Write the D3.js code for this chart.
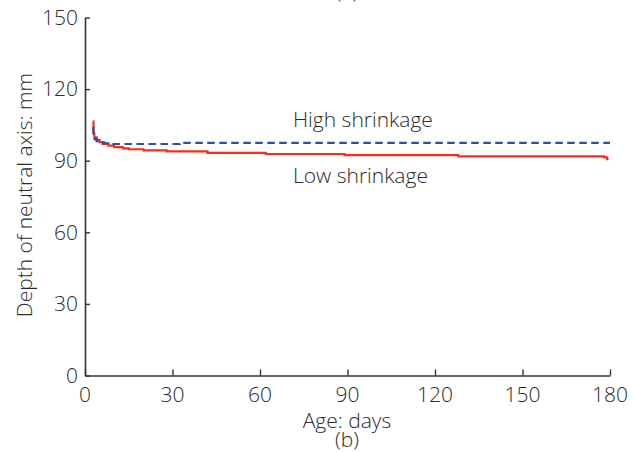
<!DOCTYPE html>
<html>
<head>
<meta charset="utf-8">
<script src="https://cdn.jsdelivr.net/npm/d3@7"></script>
<style>
  body { margin: 0; background: #fff; }
  svg { display: block; }
  text { font-family: "Open Sans", "Noto Sans", sans-serif; fill: #2b2b2b; font-stretch: 88%; font-weight: 300; }
</style>
</head>
<body>
<div id="chart"></div>
<script>
// data (day, depth in mm), step-wise
const highShrinkage = [
  [2.8, 104], [2.9, 100.5], [3.3, 99], [4, 98.2], [5, 97.7], [6.5, 97.3],
  [8, 97.0], [32, 97.0], [32.5, 97.5], [180, 97.5]
]
const lowShrinkage = [
  [2.8, 106.5], [2.9, 101.5], [3.2, 99.8], [4, 98.7], [5, 97.8], [6, 97.0],
  [8, 96.3], [10, 95.7], [13, 95.2], [15, 94.8], [20, 94.3], [28, 93.9],
  [42, 93.3], [62, 92.8], [89, 92.3], [128, 91.8], [178, 91.4], [179, 90.7], [179.5, 90.7]
]
const xTicks = [0, 30, 60, 90, 120, 150, 180]
const yTicks = [0, 30, 60, 90, 120, 150]
const seriesLabels = ['High shrinkage', 'Low shrinkage']

const width = 633
const height = 452
const margin = {top: 17.5, right: 23, bottom: 76.5, left: 85}

const svg = d3.select('#chart').append('svg')
  .attr('width', width)
  .attr('height', height)

const x = d3.scaleLinear().domain([0, 180]).range([margin.left, width - margin.right])
const y = d3.scaleLinear().domain([0, 150]).range([height - margin.bottom, margin.top])

const fontSize = 21

// axes, ticks point inward
const xAxis = svg.append('g')
  .attr('transform', `translate(0,${y(0)})`)
  .call(d3.axisTop(x).tickValues(xTicks).tickSize(6).tickSizeOuter(0).tickFormat(''))
const yAxis = svg.append('g')
  .attr('transform', `translate(${x(0)},0)`)
  .call(d3.axisRight(y).tickValues(yTicks).tickSize(5).tickSizeOuter(0).tickFormat(''))

;[xAxis, yAxis].forEach(a => {
  a.select('.domain').attr('stroke', '#333').attr('stroke-width', 1.6)
  a.selectAll('.tick line').attr('stroke', '#333').attr('stroke-width', 1.4)
})

svg.append('g').selectAll('text').data(xTicks).enter().append('text')
  .attr('x', d => x(d))
  .attr('y', y(0) + 26)
  .attr('text-anchor', 'middle')
  .style('font-size', fontSize + 'px')
  .text(d => d)

svg.append('g').selectAll('text').data(yTicks).enter().append('text')
  .attr('x', x(0) - 7)
  .attr('y', d => y(d))
  .attr('dy', '0.35em')
  .attr('text-anchor', 'end')
  .style('font-size', fontSize + 'px')
  .text(d => d)

// axis titles
svg.append('text')
  .attr('x', 347).attr('y', 428)
  .attr('text-anchor', 'middle')
  .style('font-size', fontSize + 'px')
  .text('Age: days')
svg.append('text')
  .attr('x', 347).attr('y', 447)
  .attr('text-anchor', 'middle')
  .style('font-size', fontSize + 'px')
  .text('(b)')
svg.append('text')
  .attr('x', 347).attr('y', -1)
  .attr('text-anchor', 'middle')
  .style('font-size', fontSize + 'px')
  .text('(a)')
svg.append('text')
  .attr('transform', 'translate(32,195) rotate(-90)')
  .attr('text-anchor', 'middle')
  .style('font-size', fontSize + 'px')
  .text('Depth of neutral axis: mm')

// lines
const line = d3.line()
  .x(d => x(d[0]))
  .y(d => y(d[1]))
  .curve(d3.curveStepAfter)

svg.append('path')
  .datum(lowShrinkage)
  .attr('d', line)
  .attr('fill', 'none')
  .attr('stroke', '#ff2a1a')
  .attr('stroke-width', 2.2)

svg.append('path')
  .datum(highShrinkage)
  .attr('d', line)
  .attr('fill', 'none')
  .attr('stroke', '#2f4fa6')
  .attr('stroke-width', 2.2)
  .attr('stroke-dasharray', '7.5,4.5')

// series labels
svg.append('text')
  .attr('x', 293).attr('y', 127)
  .style('font-size', fontSize + 'px')
  .text(seriesLabels[0])
svg.append('text')
  .attr('x', 293).attr('y', 183)
  .style('font-size', fontSize + 'px')
  .text(seriesLabels[1])
</script>
</body>
</html>
